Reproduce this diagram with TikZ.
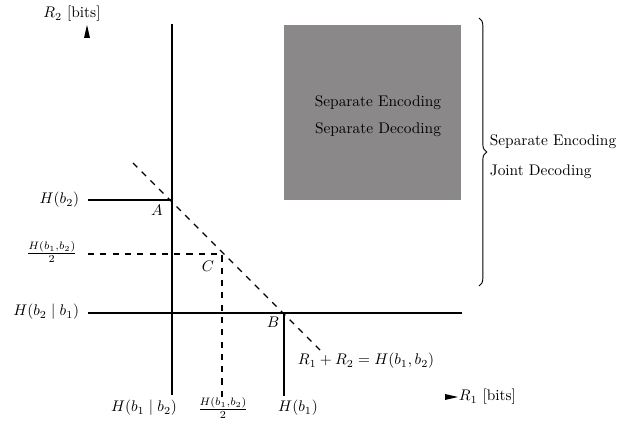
\documentclass[tikz,border=0pt]{standalone}
\usepackage{amsmath}
\usepackage{tikz}
\usetikzlibrary{arrows.meta,decorations.pathreplacing,positioning}
\definecolor{regiongray}{HTML}{8A8888}

\begin{document}
\begin{tikzpicture}[x=0.65pt, y=0.65pt,
  bound/.style={draw=black, line width=0.9pt},
  guide/.style={draw=black, line width=0.9pt, dashed, dash pattern=on 4pt off 4pt},
  tip/.style={fill=black},
  lbl/.style={inner sep=1pt},
  pt/.style={inner sep=1pt, font=\normalsize},
]
  \useasboundingbox (0,0) rectangle (630,424);

  % corner points of the region
  \coordinate (A) at (172,224);
  \coordinate (C) at (222,170);
  \coordinate (B) at (284,111);

  % separate encoding / separate decoding region
  \fill[regiongray] (284,224) rectangle (461,399);
  \node[lbl] (sepenc) at (378,321) {Separate Encoding};
  \node[lbl] (sepdec) at (378,294) {Separate Decoding};

  % axes tips and labels
  \fill[tip] (87,399) -- (84,386) -- (90,386) -- cycle;
  \node[lbl] (ylab) at (72,410) {$R_2$ [bits]};
  \fill[tip] (458,27) -- (445,30) -- (445,24) -- cycle;
  \node[lbl, anchor=west] (xlab) at (457,27) {$R_1$ [bits]};

  % bounds
  \coordinate (atop) at (172,400);
  \coordinate (abot) at (172,29);
  \coordinate (hbtwo) at (88,224);
  \coordinate (hcleft) at (88,111);
  \coordinate (hcright) at (462,111);
  \coordinate (bbot) at (284,28);
  \draw[bound] (atop) -- (abot);
  \draw[bound] (hbtwo) -- (A);
  \draw[bound] (hcleft) -- (hcright);
  \draw[bound] (B) -- (bbot);

  % symmetric point
  \coordinate (cleft) at (88,170);
  \coordinate (cbot) at (222,26);
  \draw[guide] (cleft) -- (C) -- (cbot);

  % sum rate line
  \coordinate (sumtop) at (133,261);
  \coordinate (sumbot) at (320,74);
  \draw[guide] (sumtop) -- (sumbot);
  \node[lbl, anchor=west] (sumlab) at (296,63) {$R_1+R_2=H(b_1,b_2)$};

  \node[pt] (alab) at (157,214) {$A$};
  \node[pt] (clab) at (208,158) {$C$};
  \node[pt] (blab) at (273,102) {$B$};

  % entropy labels
  \node[lbl, anchor=east] (lhb2) at (81,224) {$H(b_2)$};
  \node[lbl, anchor=east] (lhalfy) at (79,172) {$\frac{H(b_1,b_2)}{2}$};
  \node[lbl, anchor=east] (lhcond) at (81,112) {$H(b_2\mid b_1)$};
  \node[lbl] (lhcondx) at (144,16) {$H(b_1\mid b_2)$};
  \node[lbl] (lhalfx) at (223,16) {$\frac{H(b_1,b_2)}{2}$};
  \node[lbl] (lhb1) at (298,16) {$H(b_1)$};

  % joint decoding region
  \draw[decorate, decoration={brace, amplitude=5pt}, line width=0.6pt]
    (479,406) -- (479,138);
  \node[lbl, anchor=west] (jenc) at (488,282) {Separate Encoding};
  \node[lbl, anchor=west] (jdec) at (488,252) {Joint Decoding};
\end{tikzpicture}
\end{document}
